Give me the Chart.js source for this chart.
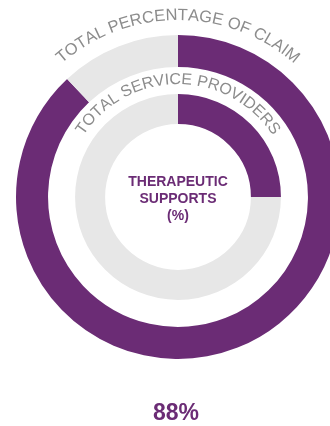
<!DOCTYPE html>
<html>
<head>
<meta charset="utf-8">
<script src="https://cdn.jsdelivr.net/npm/chart.js@4.4.1/dist/chart.umd.min.js"></script>
<style>
  html, body { margin: 0; padding: 0; background: #ffffff; overflow: hidden; width: 330px; height: 426px; }
  #wrap { position: absolute; left: 0; top: 0; width: 356px; height: 426px; }
</style>
</head>
<body>
<div id="wrap"><canvas id="c" width="356" height="426"></canvas></div>
<script>
// ---- data ----
const categories = ['Therapeutic supports', 'Other'];
const claimValues = [88, 12];          // total percentage of claim (outer ring)
const providerValues = [25, 75];       // total service providers (inner ring)
const outerLabel = 'TOTAL PERCENTAGE OF CLAIM';
const innerLabel = 'TOTAL SERVICE PROVIDERS';
const centerLines = ['THERAPEUTIC', 'SUPPORTS', '(%)'];
const headline = '88%';

const PURPLE = '#6b2c75';
const GREY = '#e7e7e7';
const LABEL_GREY = '#8c8c8c';
const FONT = '"Liberation Sans", Arial, sans-serif';

function drawArcText(ctx, text, cx, cy, r, centerAngle) {
  let total = 0;
  for (const ch of text) total += ctx.measureText(ch).width;
  let angle = centerAngle - total / (2 * r);
  ctx.textAlign = 'center';
  ctx.textBaseline = 'alphabetic';
  for (const ch of text) {
    const w = ctx.measureText(ch).width;
    const a = angle + w / (2 * r);
    ctx.save();
    ctx.translate(cx + r * Math.cos(a), cy + r * Math.sin(a));
    ctx.rotate(a + Math.PI / 2);
    ctx.fillText(ch, 0, 0);
    ctx.restore();
    angle += w / r;
  }
}

const labelsPlugin = {
  id: 'labelsPlugin',
  afterDraw(chart) {
    const ctx = chart.ctx;
    const outerArc = chart.getDatasetMeta(0).data[0];
    const innerArc = chart.getDatasetMeta(2).data[0];
    const cx = outerArc.x, cy = outerArc.y;
    ctx.save();
    ctx.fillStyle = LABEL_GREY;
    ctx.font = '16.5px ' + FONT;
    drawArcText(ctx, outerLabel, cx, cy, outerArc.outerRadius + 15, -Math.PI / 2);
    ctx.font = '16px ' + FONT;
    drawArcText(ctx, innerLabel, cx, cy, innerArc.outerRadius + 10, -Math.PI / 2);

    ctx.fillStyle = PURPLE;
    ctx.font = 'bold 14px ' + FONT;
    ctx.textAlign = 'center';
    ctx.textBaseline = 'middle';
    const lh = 17;
    centerLines.forEach((t, i) => {
      ctx.fillText(t, cx, cy - 15 + i * lh);
    });
    ctx.font = 'bold 23px ' + FONT;
    ctx.fillText(headline, cx - 2, 414);
    ctx.restore();
  }
};

new Chart(document.getElementById('c'), {
  type: 'doughnut',
  data: {
    labels: categories,
    datasets: [
      { data: claimValues, backgroundColor: [PURPLE, GREY], borderWidth: 0, weight: 32 },
      { data: [1], backgroundColor: ['rgba(0,0,0,0)'], borderWidth: 0, weight: 27 },
      { data: providerValues, backgroundColor: [PURPLE, GREY], borderWidth: 0, weight: 30 }
    ]
  },
  options: {
    responsive: false,
    animation: false,
    cutout: '45%',
    layout: { padding: { left: 16, right: 16, top: 35, bottom: 67 } },
    plugins: { legend: { display: false }, tooltip: { enabled: false } }
  },
  plugins: [labelsPlugin]
});
</script>
</body>
</html>
